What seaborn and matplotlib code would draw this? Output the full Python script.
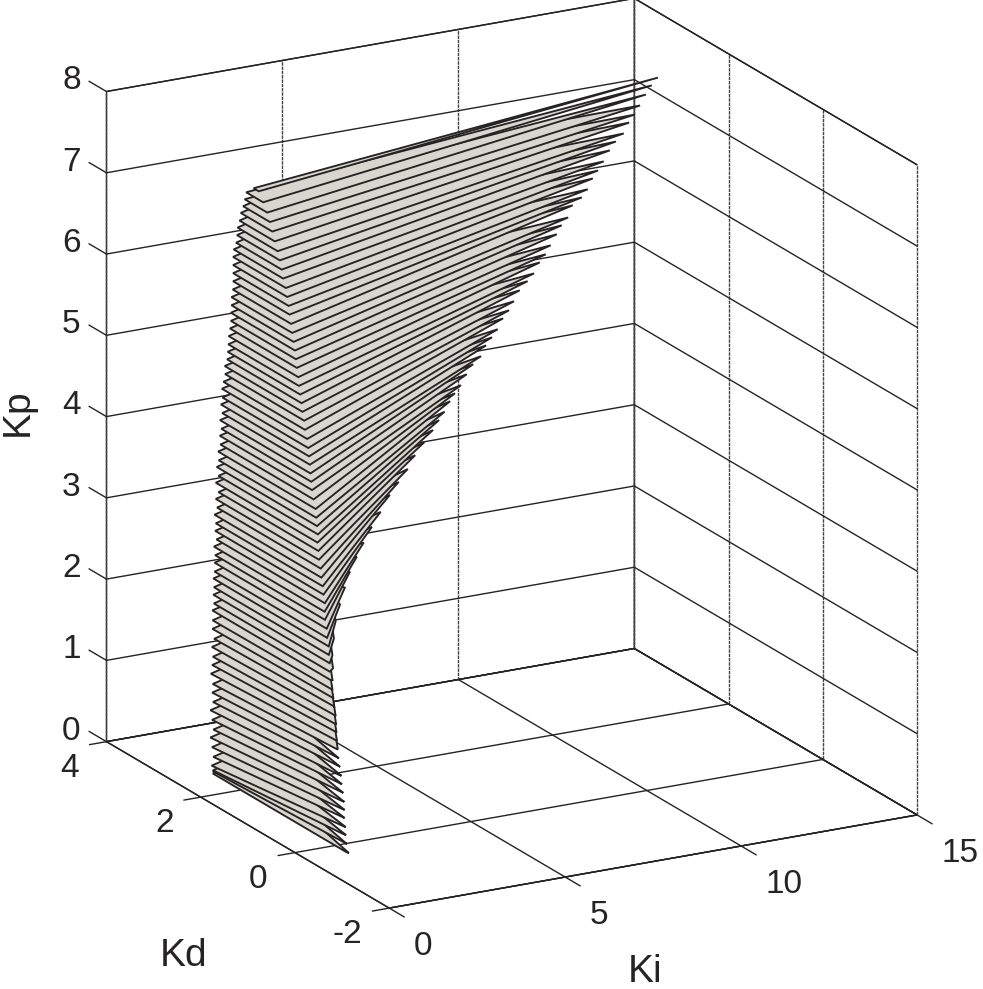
import numpy as np
import matplotlib
matplotlib.use('Agg')
import matplotlib.pyplot as plt
import seaborn as sns
from mpl_toolkits.mplot3d.art3d import Poly3DCollection
from mpl_toolkits.mplot3d import proj3d

sns.set_theme(style='white', font='Liberation Sans')

ki_ticks = [0, 5, 10, 15]
kd_ticks = [-2, 0, 2, 4]
kp_ticks = [0, 1, 2, 3, 4, 5, 6, 7, 8]

# one slice per Kp level bottom to top
kp_levels = [0.0, 0.1, 0.2, 0.3, 0.4, 0.5, 0.6, 0.7, 0.8, 0.9, 1.0, 1.1, 1.2, 1.3, 1.4, 1.5, 1.6, 1.7, 1.8, 1.9,
             2.0, 2.1, 2.2, 2.3, 2.4, 2.5, 2.6, 2.7, 2.8, 2.9, 3.0, 3.1, 3.2, 3.3, 3.4, 3.5, 3.6, 3.7, 3.8, 3.9,
             4.0, 4.1, 4.2, 4.3, 4.4, 4.5, 4.6, 4.7, 4.8, 4.9, 5.0, 5.1, 5.2, 5.3, 5.4, 5.5, 5.6, 5.7, 5.8, 5.9,
             6.0, 6.1, 6.2, 6.3, 6.4, 6.5, 6.6, 6.7, 6.8, 6.9, 7.0, 7.1, 7.2, 7.3, 7.4, 7.5]
ki_left = [1.15, 0.93, 0.67, 0.51, 0.57, 0.60, 0.62, 0.68, 0.71, 0.73, 0.79, 0.82, 0.85, 0.89, 0.94, 0.96, 1.00, 1.05, 1.08, 1.10,
           1.16, 1.15, 1.16, 1.15, 1.16, 1.14, 1.17, 1.16, 1.15, 1.17, 1.16, 1.15, 1.14, 1.16, 1.15, 1.16, 1.15, 1.16, 1.15, 1.14,
           1.15, 1.16, 1.17, 1.16, 1.15, 1.16, 1.15, 1.14, 1.15, 1.14, 1.16, 1.15, 1.15, 1.14, 1.13, 1.14, 1.15, 1.15, 1.15, 1.14,
           1.14, 1.15, 1.16, 1.16, 1.16, 1.16, 1.15, 1.15, 1.15, 1.14, 1.14, 1.15, 1.15, 1.14, 1.13, 1.14]
ki_front = [1.15, 1.16, 1.15, 1.14, 1.16, 1.15, 1.14, 1.16, 1.15, 1.14, 1.16, 1.15, 1.14, 1.15, 1.16, 1.14, 1.15, 1.16, 1.15, 1.14,
            1.16, 1.15, 1.16, 1.15, 1.16, 1.14, 1.17, 1.16, 1.15, 1.17, 1.16, 1.15, 1.14, 1.16, 1.15, 1.16, 1.15, 1.16, 1.15, 1.14,
            1.15, 1.16, 1.17, 1.16, 1.15, 1.16, 1.15, 1.14, 1.15, 1.14, 1.16, 1.15, 1.15, 1.14, 1.13, 1.14, 1.15, 1.15, 1.15, 1.14,
            1.14, 1.15, 1.16, 1.16, 1.16, 1.16, 1.15, 1.15, 1.15, 1.14, 1.14, 1.15, 1.15, 1.14, 1.13, 1.14]
kd_left = [2.61, 2.45, 2.25, 2.16, 2.17, 2.22, 2.27, 2.25, 2.30, 2.35, 2.34, 2.38, 2.39, 2.46, 2.47, 2.47, 2.52, 2.51, 2.57, 2.58,
           2.63, 2.59, 2.61, 2.59, 2.61, 2.57, 2.59, 2.57, 2.59, 2.55, 2.57, 2.55, 2.57, 2.53, 2.55, 2.50, 2.55, 2.50, 2.53, 2.48,
           2.50, 2.46, 2.48, 2.44, 2.46, 2.42, 2.44, 2.40, 2.42, 2.38, 2.36, 2.36, 2.31, 2.29, 2.27, 2.27, 2.25, 2.23, 2.23, 2.21,
           2.21, 2.19, 2.19, 2.19, 2.19, 2.19, 2.17, 2.12, 2.10, 2.08, 2.04, 2.02, 1.97, 1.93, 1.89, 1.74]
kd_front = [-0.22, -0.19, -0.16, -0.16, -0.13, -0.13, -0.13, -0.10, -0.08, -0.07, -0.04, -0.02, 0.00, 0.01, 0.02, 0.02, 0.03, 0.05, 0.07, 0.09,
            0.12, 0.13, 0.14, 0.15, 0.16, 0.18, 0.21, 0.24, 0.24, 0.25, 0.27, 0.28, 0.30, 0.33, 0.36, 0.38, 0.39, 0.39, 0.40, 0.41,
            0.43, 0.48, 0.52, 0.53, 0.54, 0.56, 0.57, 0.58, 0.61, 0.65, 0.68, 0.71, 0.73, 0.75, 0.77, 0.79, 0.83, 0.85, 0.87, 0.89,
            0.92, 0.95, 0.99, 1.01, 1.04, 1.07, 1.12, 1.15, 1.19, 1.23, 1.29, 1.35, 1.40, 1.45, 1.53, 1.63]
ki_right = [1.17, 1.16, 1.17, 1.16, 1.17, 1.17, 1.16, 1.17, 1.16, 1.16, 1.16, 1.15, 1.15, 1.14, 1.14, 1.13, 1.13, 1.12, 1.12, 1.12,
            1.20, 1.35, 1.52, 1.87, 2.24, 2.66, 3.09, 3.49, 3.90, 4.27, 4.73, 5.18, 5.71, 6.08, 6.46, 6.83, 7.21, 7.55, 7.75, 7.88,
            8.09, 8.19, 8.32, 8.55, 8.76, 8.93, 9.14, 9.27, 9.39, 9.61, 9.74, 9.88, 10.11, 10.32, 10.45, 10.68, 10.81, 10.95, 11.19, 11.33,
            11.46, 11.71, 11.90, 12.03, 12.24, 12.35, 12.51, 12.75, 12.91, 13.08, 13.30, 13.42, 13.57, 13.80, 13.97, 14.09]
kd_right = [-0.26, -0.23, -0.20, -0.20, -0.17, -0.17, -0.17, -0.14, -0.12, -0.11, -0.08, -0.06, -0.04, -0.03, -0.02, -0.02, -0.01, 0.01, 0.03, 0.05,
            0.11, 0.21, 0.35, 0.58, 0.82, 1.04, 1.26, 1.45, 1.61, 1.74, 1.91, 2.06, 2.26, 2.35, 2.44, 2.56, 2.65, 2.72, 2.74, 2.72,
            2.76, 2.73, 2.70, 2.75, 2.77, 2.73, 2.78, 2.75, 2.72, 2.77, 2.74, 2.74, 2.79, 2.78, 2.74, 2.79, 2.76, 2.76, 2.81, 2.81,
            2.77, 2.86, 2.81, 2.78, 2.83, 2.80, 2.80, 2.85, 2.84, 2.80, 2.85, 2.82, 2.82, 2.87, 2.87, 2.83]

ink = '#262324'
fill = '#d9d6cf'

fig = plt.figure(figsize=(9.83, 9.89), dpi=100, facecolor='white')
ax = fig.add_axes([0.0071, 0.0283, 1, 1], projection='3d', proj_type='ortho', computed_zorder=False)
ax.view_init(elev=18.8, azim=-118.7)
ax.set_box_aspect((602, 589, 687), zoom=1.073)
ax.set_xlim(0, 15)
ax.set_ylim(-2, 4)
ax.set_zlim(0, 8)
# ticks are drawn by hand below, they stick out along the box edges
ax.set_xticks([])
ax.set_yticks([])
ax.set_zticks([])
ax.grid(False)

for axis in (ax.xaxis, ax.yaxis, ax.zaxis):
    axis.set_pane_color((1, 1, 1, 1))
    axis.pane.set_edgecolor(ink)
    axis.pane.set_linewidth(1.0)
    axis.line.set_color(ink)
    axis.line.set_linewidth(1.0)


def tick_label(x, y, z, s, ha):
    x2, y2, _ = proj3d.proj_transform(x, y, z, ax.get_proj())
    ax.text2D(x2, y2, s, transform=ax.transData, fontsize=24, color=ink, ha=ha, va='center')


for k in ki_ticks:
    ax.plot([k, k], [-2.32, 4], [0, 0], color=ink, lw=1.0, zorder=1)
    ax.plot([k, k], [4, 4], [0, 8], color='#444444', lw=1.0, ls=(0, (2.5, 0.6)), zorder=1)
    tick_label(k - 0.91, -3.19, 0, str(k), 'left')
for k in kd_ticks:
    ax.plot([-0.48, 15], [k, k], [0, 0], color=ink, lw=1.0, zorder=1)
    ax.plot([15, 15], [k, k], [0, 8], color='#444444', lw=1.0, ls=(0, (2.5, 0.6)), zorder=1)
    tick_label(-1.58, k - 0.60, 0, str(k), 'right')
for k in kp_ticks:
    ax.plot([0, 0], [4, 4.37], [k, k], color=ink, lw=1.0, zorder=1)
    ax.plot([0, 15, 15], [4, 4, -2], [k, k, k], color=ink, lw=1.0, zorder=1)
    tick_label(-0.17, 4.42, k, str(k), 'right')

for i, kp in enumerate(kp_levels):
    left = np.array([ki_left[i], kd_left[i]])
    front = np.array([ki_front[i], kd_front[i]])
    right = np.array([ki_right[i], kd_right[i]])
    outline = [left, front, right]
    if i <= 72:
        # back edge only peeks out as a tooth at each end, the slice above hides the rest
        if i < 12:
            spike = right + (left - right) * 0.28 + (0.44, 0.33)
        elif i < 25:
            spike = right + (0.47, 0.395)
        else:
            spike = right + (front - right) * 0.25 + (0.44, 0.33)
        tooth = left + (0.53, 0.10)
        outline += [spike, tooth]
    pts = [(p[0], p[1], kp) for p in outline]
    poly = Poly3DCollection([pts], facecolor=fill, edgecolor=ink, linewidth=1.35, joinstyle='miter', zorder=2 + i)
    ax.add_collection3d(poly)

fig.text(18 / 983, 1 - 412 / 989, 'Kp', fontsize=28, color=ink, rotation=90, ha='center', va='center')
fig.text(184 / 983, 1 - 956 / 989, 'Kd', fontsize=28, color=ink, ha='center', va='center')
fig.text(645 / 983, 1 - 972 / 989, 'Ki', fontsize=28, color=ink, ha='center', va='center')

fig.savefig('out.png', dpi=100)
